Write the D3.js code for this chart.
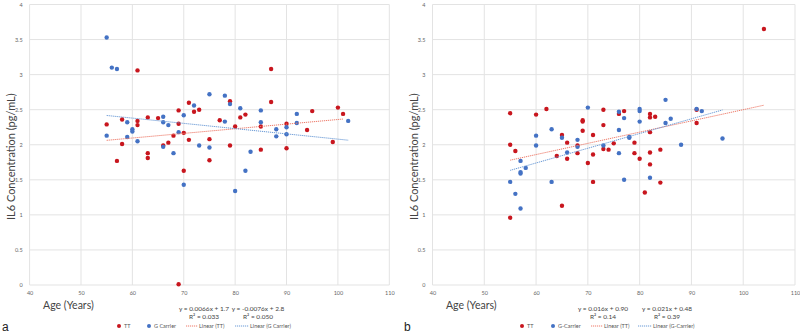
<!DOCTYPE html>
<html>
<head>
<meta charset="utf-8">
<script src="https://cdn.jsdelivr.net/npm/d3@7"></script>
<style>
  body { margin: 0; background: #fff; }
  svg { display: block; font-family: Lato, "Open Sans", sans-serif; }
</style>
</head>
<body>
<div id="chart"></div>
<script>
(function(){

const width = 800;
const height = 334;

// tick values
const xTicks = [40, 50, 60, 70, 80, 90, 100, 110];
const yTicks = [0, 0.5, 1, 1.5, 2, 2.5, 3, 3.5, 4];

// panel a: [age, IL6]
const aTT = [[61,3.06],[87,3.08],[87,2.61],[79,2.62],[71,2.60],[73,2.50],[72,2.47],[69,2.49],[95,2.48],[100,2.53],[101,2.44],
  [55,2.29],[58,2.36],[61,2.34],[61,2.28],[63,2.39],[65,2.38],[69,2.30],[77,2.35],[81,2.39],[82,2.43],[80,2.26],[85,2.26],
  [90,2.30],[94,2.21],[68,2.13],[70,2.17],[71,2.07],[75,2.08],[58,2.01],[67,2.03],[66,1.99],[79,1.99],[85,1.93],[90,1.95],
  [99,2.04],[63,1.88],[63,1.81],[57,1.77],[75,1.78],[70,1.63],[69,0.01]];
const aG = [[55,3.53],[56,3.10],[57,3.08],[75,2.72],[78,2.70],[79,2.58],[72,2.56],[81,2.52],[85,2.49],[66,2.40],[70,2.42],
  [59,2.32],[66,2.32],[67,2.28],[78,2.33],[85,2.32],[92,2.44],[92,2.31],[102,2.34],[60,2.22],[60,2.19],[55,2.13],[59,2.11],
  [69,2.18],[88,2.22],[90,2.25],[88,2.12],[90,2.15],[61,2.05],[73,1.99],[75,1.96],[66,1.97],[68,1.88],[83,1.90],[82,1.63],
  [70,1.43],[80,1.34]];

// panel b: [age, IL6]
const bTT = [[104,3.65],[55,2.45],[60,2.43],[62,2.51],[73,2.50],[76,2.44],[77,2.48],[82,2.44],[82,2.39],[83,2.40],[91,2.50],
  [91,2.31],[69,2.35],[69,2.33],[73,2.28],[69,2.20],[82,2.18],[65,2.14],[71,2.14],[66,2.03],[75,2.02],[79,2.03],[55,2.00],
  [68,1.99],[56,1.91],[73,1.94],[74,1.93],[84,1.93],[82,1.89],[68,1.88],[79,1.88],[71,1.86],[64,1.84],[66,1.80],[80,1.80],
  [70,1.74],[82,1.72],[71,1.47],[81,1.32],[84,1.46],[65,1.13],[55,0.96]];
const bG = [[85,2.64],[70,2.53],[80,2.51],[80,2.48],[76,2.47],[91,2.51],[92,2.48],[77,2.38],[86,2.37],[80,2.33],[85,2.31],
  [63,2.22],[76,2.21],[60,2.13],[65,2.10],[78,2.11],[78,2.10],[68,2.07],[96,2.09],[60,1.99],[68,1.97],[73,1.99],[88,2.00],
  [66,1.89],[76,1.88],[57,1.77],[57,1.61],[57,1.59],[58,1.67],[55,1.47],[63,1.47],[77,1.50],[82,1.53],[56,1.30],[57,1.09]];

// trend lines: slope, intercept, age range
const aFitTT = {m: 0.0066, b: 1.70, from: 55, to: 101};
const aFitG  = {m: -0.0075, b: 2.83, from: 55, to: 102};
const bFitTT = {m: 0.016, b: 0.90, from: 55, to: 104};
const bFitG  = {m: 0.021, b: 0.48, from: 55, to: 96};

const aEq = [["y = 0.0066x + 1.7", "R\u00b2 = 0.033"], ["y = -0.0076x + 2.8", "R\u00b2 = 0.050"]];
const bEq = [["y = 0.016x + 0.90", "R\u00b2 = 0.14"], ["y = 0.021x + 0.48", "R\u00b2 = 0.39"]];
const aLegend = ["TT", "G Carrier", "Linear (TT)", "Linear (G Carrier)"];
const bLegend = ["TT", "G-Carrier", "Linear (TT)", "Linear (G-Carrier)"];

const red = "#c8161e";
const blue = "#4472c4";
const redLine = "#ee7b6a";
const blueLine = "#6a9ad6";

const svg = d3.select("#chart")
  .append("svg")
  .attr("width", width)
  .attr("height", height);

function panel(cfg) {
  const x = d3.scaleLinear().domain([40, 110]).range([cfg.left, cfg.right]);
  const y = d3.scaleLinear().domain([0, 4]).range([285, 4.5]);
  const g = svg.append("g");

  // gridlines
  g.selectAll(".vg").data(xTicks).enter().append("line")
    .attr("x1", d => x(d)).attr("x2", d => x(d))
    .attr("y1", y(4)).attr("y2", y(0))
    .attr("stroke", "#e3e3e3").attr("stroke-width", 1);
  g.selectAll(".hg").data(yTicks).enter().append("line")
    .attr("x1", x(40)).attr("x2", x(110))
    .attr("y1", d => y(d)).attr("y2", d => y(d))
    .attr("stroke", "#e3e3e3").attr("stroke-width", 1);

  // axes (labels only)
  const xa = g.append("g")
    .attr("transform", `translate(0,${y(0) + 3})`)
    .call(d3.axisBottom(x).tickValues(xTicks).tickSize(0).tickFormat(d3.format("d")));
  const ya = g.append("g")
    .attr("transform", `translate(${x(40) - 4},0)`)
    .call(d3.axisLeft(y).tickValues(yTicks).tickSize(0).tickFormat(d => d));
  [xa, ya].forEach(a => {
    a.select(".domain").remove();
    a.selectAll("text").style("font-size", "5.5px").attr("fill", "#666").style("font-family", "Lato, sans-serif");
  });

  // axis titles
  g.append("text")
    .attr("transform", `translate(${cfg.left - 17},${y(1.83)}) rotate(-90)`)
    .attr("text-anchor", "middle")
    .attr("dominant-baseline", "middle")
    .style("font-size", "11px")
    .attr("fill", "#444")
    .text("IL6 Concentration (pg/mL)");
  g.append("text")
    .attr("x", cfg.left + 13.5)
    .attr("y", 309)
    .style("font-size", "10.5px")
    .attr("fill", "#444")
    .text("Age (Years)");

  // points
  g.selectAll(".tt").data(cfg.tt).enter().append("circle")
    .attr("cx", d => x(d[0])).attr("cy", d => y(d[1]))
    .attr("r", 2.2).attr("fill", red);
  g.selectAll(".gc").data(cfg.gc).enter().append("circle")
    .attr("cx", d => x(d[0])).attr("cy", d => y(d[1]))
    .attr("r", 2.2).attr("fill", blue);

  // trend lines
  const line = d3.line().x(d => x(d[0])).y(d => y(d[1]));
  [[cfg.fitTT, redLine], [cfg.fitG, blueLine]].forEach(([f, c]) => {
    g.append("path")
      .datum([[f.from, f.m * f.from + f.b], [f.to, f.m * f.to + f.b]])
      .attr("fill", "none")
      .attr("stroke", c)
      .attr("stroke-width", 1)
      .attr("stroke-dasharray", "1.2,0.8")
      .attr("d", line);
  });

  // equations
  cfg.eq.forEach((e, i) => {
    e.forEach((t, j) => {
      g.append("text")
        .attr("x", cfg.eqX[i])
        .attr("y", 311 + j * 8)
        .attr("text-anchor", "middle")
        .style("font-size", "6.5px")
        .attr("fill", "#444")
        .text(t);
    });
  });

  // legend
  const lg = g.append("g").attr("transform", `translate(${cfg.legX},326)`);
  const lx = cfg.legPos;
  lg.append("circle").attr("cx", lx[0]).attr("cy", 0).attr("r", 2).attr("fill", red);
  lg.append("circle").attr("cx", lx[1]).attr("cy", 0).attr("r", 2).attr("fill", blue);
  lg.append("line").attr("x1", lx[2]).attr("x2", lx[2] + 12).attr("y1", 0).attr("y2", 0)
    .attr("stroke", redLine).attr("stroke-dasharray", "1.2,0.8");
  lg.append("line").attr("x1", lx[3]).attr("x2", lx[3] + 14).attr("y1", 0).attr("y2", 0)
    .attr("stroke", blueLine).attr("stroke-dasharray", "1.2,0.8");
  cfg.legend.forEach((t, i) => {
    lg.append("text")
      .attr("x", lx[i] + (i < 2 ? 5 : (i == 2 ? 13 : 15)))
      .attr("y", 2)
      .style("font-size", "5.5px")
      .attr("fill", "#555")
      .text(t);
  });

  // panel letter
  svg.append("text")
    .attr("x", cfg.letterX)
    .attr("y", 331)
    .style("font-size", "12px")
    .style("font-family", "Liberation Sans, Arial, sans-serif")
    .attr("fill", "#222")
    .text(cfg.letter);
}

panel({left: 29.6, right: 389.3, tt: aTT, gc: aG, fitTT: aFitTT, fitG: aFitG,
  eq: aEq, eqX: [204, 258], legend: aLegend, legX: 0, legPos: [119, 149, 186, 235],
  letter: "a", letterX: 2});
panel({left: 432.5, right: 795, tt: bTT, gc: bG, fitTT: bFitTT, fitG: bFitG,
  eq: bEq, eqX: [603, 667], legend: bLegend, legX: 0, legPos: [522, 553, 591, 638],
  letter: "b", letterX: 404});

})();
</script>
</body>
</html>
